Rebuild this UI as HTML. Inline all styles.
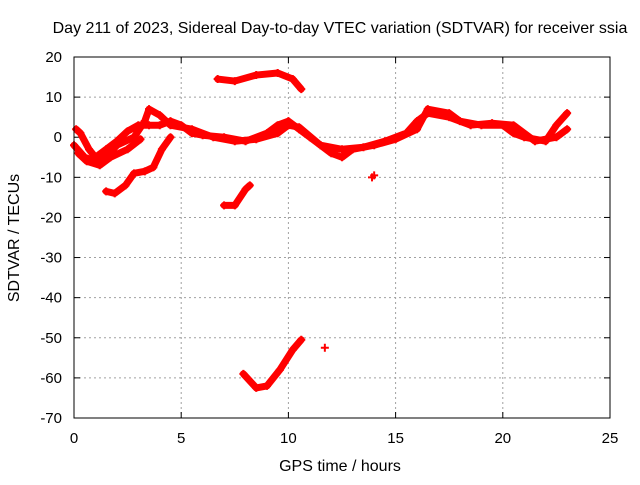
<!DOCTYPE html>
<html><head><meta charset="utf-8"><style>
body{margin:0;background:#fff;font-family:"Liberation Sans",sans-serif;}
svg text{font-family:"Liberation Sans",sans-serif;font-size:15px;fill:#000;}
svg text.big{font-size:16px;}
</style></head><body>
<svg id="chart" width="640" height="480" xmlns="http://www.w3.org/2000/svg">
<rect width="640" height="480" fill="#fff"/>
<text class="big" x="340" y="33" text-anchor="middle">Day 211 of 2023, Sidereal Day-to-day VTEC variation (SDTVAR) for receiver ssia</text>
<text class="big" x="340" y="471" text-anchor="middle">GPS time / hours</text>
<text class="big" transform="translate(19,238) rotate(-90)" text-anchor="middle">SDTVAR / TECUs</text>
<g id="grid"></g><g id="ticks"></g><g id="marks"></g>
<rect x="74" y="57" width="536" height="361" fill="none" stroke="#000" stroke-width="1"/>
</svg>
<script>
const xTicks=[0,5,10,15,20,25];
const yTicks=[20,10,0,-10,-20,-30,-40,-50,-60,-70];
const trackMain=[[0.1,2],[0.3,1],[0.7,-3],[1.0,-5],[1.5,-3],[2,-1],[2.5,1.5],[3,3],[3.5,3],[4,3],[4.5,4],[5,3],[5.5,1],[6,0.5],[7,0],[8,-1],[9,1],[9.5,3],[10,4],[10.5,2],[11,0],[11.5,-2],[12.5,-3],[13.5,-2.5],[14.5,-1],[15.5,1],[16,4],[16.5,6],[17.5,5],[18.5,3],[19.5,3.5],[20.5,3],[21.5,-1],[22.5,0],[23,2]];
const trackSecond=[[0,-2],[0.5,-5],[1,-6],[1.5,-5],[2,-2],[2.8,0],[3.3,4],[3.5,7],[4,5.5],[4.5,3],[5.5,2],[6.5,0],[7.5,-1],[8.5,-0.5],[9.5,1],[10,3],[10.5,2.5],[11.5,-2],[12,-4],[12.5,-5],[13,-3],[14,-2],[15,-0.5],[16,2],[16.5,7],[17.5,6],[18,4],[19,3],[20,3],[20.5,1],[21,0],[22,-1],[22.5,3],[23,6]];
const trackLeft=[[0.2,-4],[0.6,-6],[1.2,-7],[1.7,-5],[2.5,-3],[3.1,-0.5]];
const trackTop=[[6.7,14.5],[7.5,14],[8.5,15.5],[9.5,16],[10.2,14.5],[10.6,12]];
const trackBottom=[[7.9,-59],[8.5,-62.5],[9,-62],[9.6,-58],[10.2,-53],[10.6,-50.5]];
const trackMid=[[7.0,-17],[7.5,-17],[8.0,-13],[8.2,-12]];
const trackLow=[[1.5,-13.5],[1.9,-14],[2.4,-12],[2.8,-9],[3.3,-8.5],[3.7,-7.5],[4.1,-3],[4.5,0]];
const isolated=[[11.7,-52.5],[14,-9.5],[13.9,-10]];
const X=t=>74+t*(536/25);
const Y=v=>57+(20-v)*(361/90);
const NS="http://www.w3.org/2000/svg";
const g=document.getElementById('grid'),tk=document.getElementById('ticks'),mk=document.getElementById('marks');
function mkEl(tag,attrs,parent){const e=document.createElementNS(NS,tag);for(const k in attrs)e.setAttribute(k,attrs[k]);parent.appendChild(e);return e;}
xTicks.forEach(t=>{
 if(t>0&&t<25){const l=mkEl('line',{x1:X(t),x2:X(t),y1:57,y2:418,stroke:'#a0a0a0','stroke-dasharray':'2,3'},g);
 
 }
 mkEl('line',{x1:X(t),x2:X(t),y1:418,y2:412,stroke:'#000'},tk);
 mkEl('line',{x1:X(t),x2:X(t),y1:57,y2:63,stroke:'#000'},tk);
 const tx=mkEl('text',{x:X(t),y:443,'text-anchor':'middle'},tk);tx.textContent=t;
 
 
});
yTicks.forEach(v=>{
 if(v<20&&v>-70){const l=mkEl('line',{x1:74,x2:610,y1:Y(v),y2:Y(v),stroke:'#a0a0a0','stroke-dasharray':'2,3'},g);
 
 }
 mkEl('line',{x1:74,x2:80,y1:Y(v),y2:Y(v),stroke:'#000'},tk);
 mkEl('line',{x1:604,x2:610,y1:Y(v),y2:Y(v),stroke:'#000'},tk);
 const tx=mkEl('text',{x:62,y:Y(v)+5,'text-anchor':'end'},tk);tx.textContent=v;
 
 
});
function plus(t,v){const x=X(t),y=Y(v);mkEl('path',{d:`M${x-4},${y}h8M${x},${y-4}v8`,stroke:'#f00','stroke-width':2},mk);}
[trackMain,trackSecond,trackLeft,trackTop,trackBottom,trackMid,trackLow].forEach((tr,i)=>{
 const p=mkEl('polyline',{points:tr.map(d=>X(d[0])+','+Y(d[1])).join(' '),fill:'none',stroke:'#f00','stroke-width':7,'stroke-linejoin':'round','stroke-linecap':'round'},mk);
 
 
 tr.forEach(d=>plus(d[0],d[1]));
});
isolated.forEach(d=>plus(d[0],d[1]));
</script>
</body></html>
